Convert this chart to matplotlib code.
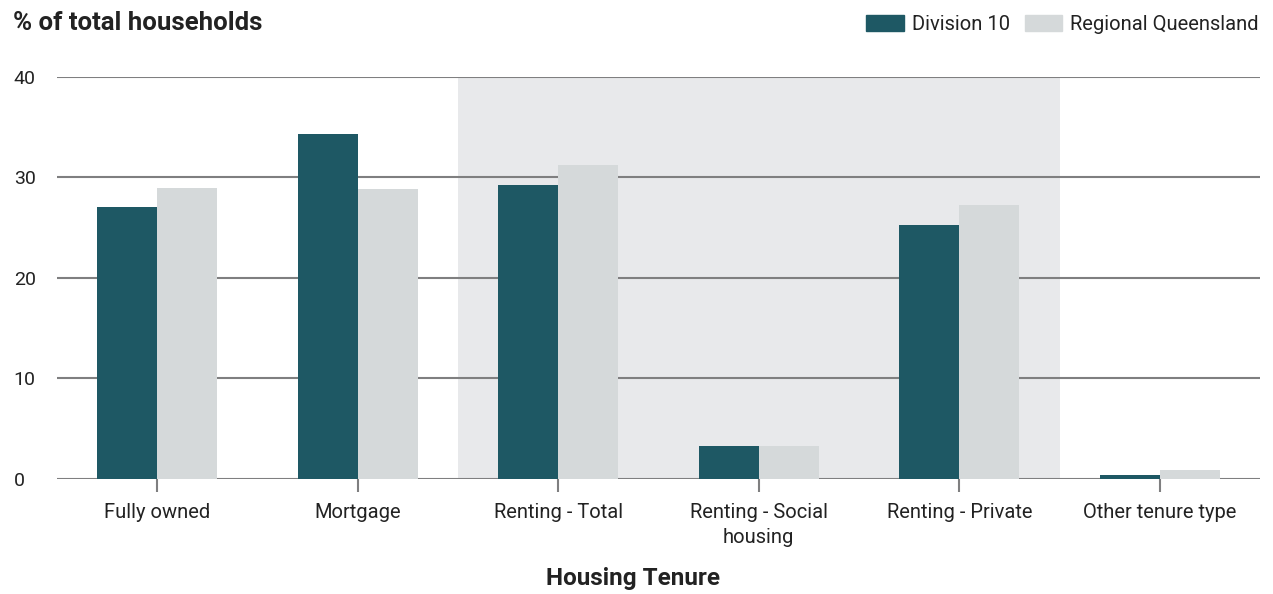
import matplotlib
matplotlib.use('Agg')
import matplotlib.pyplot as plt
import numpy as np
from matplotlib.patches import Patch

plt.rcParams['font.family'] = ['Roboto', 'DejaVu Sans']

categories = ['Fully owned', 'Mortgage', 'Renting - Total', 'Renting - Social\nhousing',
              'Renting - Private', 'Other tenure type']
division10 = [27.1, 34.3, 29.3, 3.3, 25.3, 0.4]
regional_qld = [29.0, 28.9, 31.2, 3.3, 27.3, 0.9]
yticks = [0, 10, 20, 30, 40]

dark = '#1e5864'
light = '#d5d9da'
shade = '#e8e9eb'
grid_c = '#7f7f80'

fig = plt.figure(figsize=(12.73, 5.94), dpi=100)
ax = fig.add_axes([0.0448, 0.1936, 0.945, 0.6768])

x = np.arange(len(categories))
w = 0.3
ax.axvspan(1.5, 4.5, color=shade, zorder=0, lw=0)
for y in yticks:
    ax.axhline(y, color=grid_c, lw=1.5, zorder=1)
ax.bar(x - w / 2, division10, w, color=dark, zorder=2)
ax.bar(x + w / 2, regional_qld, w, color=light, zorder=2)

ax.set_xlim(-0.5, len(categories) - 0.5)
ax.set_ylim(0, 40)
ax.set_yticks(yticks)
ax.set_xticks(x)
ax.set_xticklabels(categories, fontsize=14.5, color='#222222', linespacing=1.45)
ax.tick_params(axis='x', length=9, width=1.5, color=grid_c, pad=8)
ax.tick_params(axis='y', length=0, labelsize=14, labelcolor='#222222', pad=0)
for lbl in ax.get_yticklabels():
    lbl.set_horizontalalignment('left')
    lbl.set_x(-0.036)
for s in ax.spines.values():
    s.set_visible(False)

fig.text(0.010, 0.962, '% of total households', fontsize=18.5, fontweight='bold',
         color='#222222', va='center', ha='left')
fig.text(0.497, 0.026, 'Housing Tenure', fontsize=17.5, fontweight='bold',
         color='#222222', va='center', ha='center')

handles = [Patch(color=dark, label='Division 10'), Patch(color=light, label='Regional Queensland')]
fig.legend(handles=handles, loc='upper right', bbox_to_anchor=(1.003, 1.005), ncol=2,
           frameon=False, fontsize=14.5, handlelength=1.85, handleheight=0.85,
           handletextpad=0.4, columnspacing=0.75, labelcolor='#222222')

fig.savefig('out.png', dpi=100)
